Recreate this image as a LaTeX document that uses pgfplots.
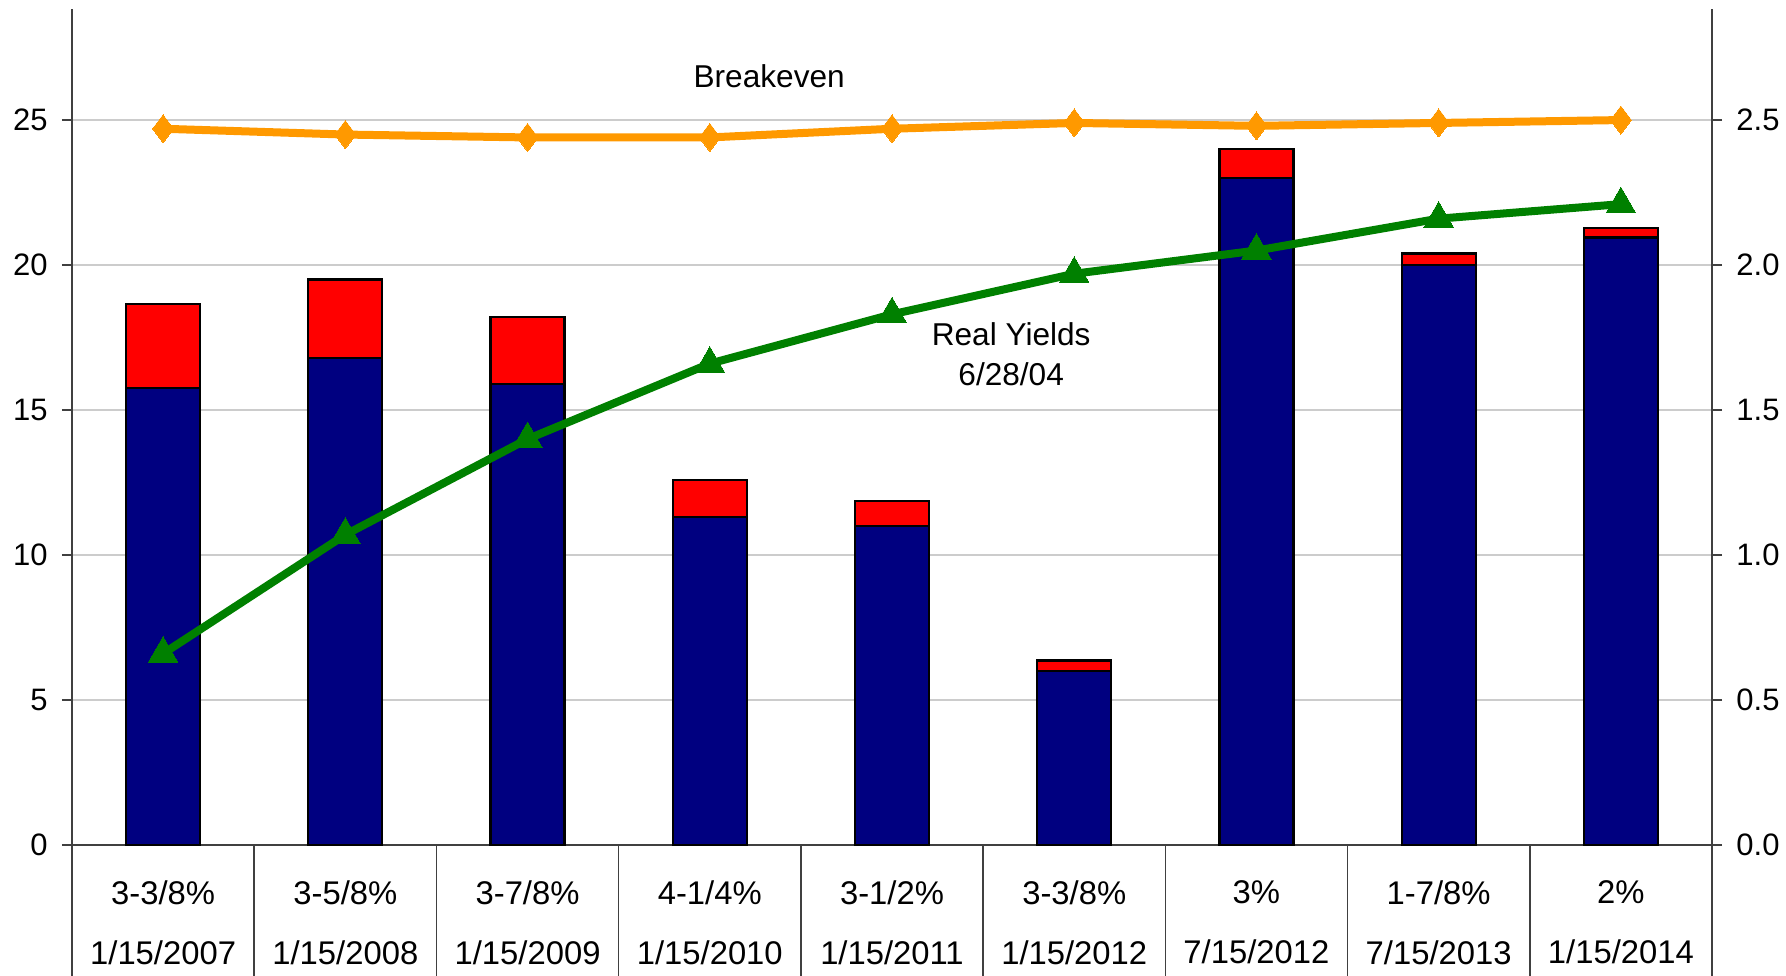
\documentclass[border=0pt]{standalone}
\usepackage{pgfplots}
\pgfplotsset{compat=1.18}
\usepackage{fontspec}
\setmainfont{Liberation Sans}
\definecolor{navybar}{HTML}{000080}
\definecolor{redbar}{HTML}{FF0000}
\definecolor{beorange}{HTML}{FF9900}
\definecolor{rygreen}{HTML}{008000}
\begin{document}
\fontsize{15pt}{18pt}\selectfont
\begin{tikzpicture}
\useasboundingbox (-36pt,-65pt) rectangle (857pt,422.5pt);
\clip (-36pt,-65pt) rectangle (857pt,422.5pt);
\begin{axis}[
  at={(0,0)}, anchor=south west,
  width=820pt, height=418pt, scale only axis,
  xmin=-0.5, xmax=8.5, ymin=0, ymax=28.83,
  ybar stacked, bar width=37pt,
  axis x line*=bottom, axis y line*=left,
  axis line style={draw=black!75, line width=0.8pt},
  tick align=outside, major tick length=5pt,
  ytick={0,5,...,25},
  ymajorgrids, grid style={draw=black!20, line width=0.6pt},
  ytick style={draw=black!75, line width=0.8pt},
  xtick={0,...,8},
  xtick style={draw=none},
  xticklabels={{3-3/8\%\\[12pt]1/15/2007},{3-5/8\%\\[12pt]1/15/2008},{3-7/8\%\\[12pt]1/15/2009},{4-1/4\%\\[12pt]1/15/2010},{3-1/2\%\\[12pt]1/15/2011},{3-3/8\%\\[12pt]1/15/2012},{3\%\\[12pt]7/15/2012},{1-7/8\%\\[12pt]7/15/2013},{2\%\\[12pt]1/15/2014}},
  xticklabel style={align=center, anchor=north, yshift=-7.5pt, font=\fontsize{16.4pt}{18pt}\selectfont},
  extra x ticks={-0.5,0.5,...,8.5},
  extra x tick labels={},
  extra x tick style={major tick length=70pt, xtick style={draw=black!75, line width=0.8pt}},
  yticklabel style={xshift=-2pt, font=\fontsize{15.5pt}{18pt}\selectfont},
  /pgf/number format/assume math mode=true,
]
\addplot[fill=navybar, draw=black, line width=1.1pt] coordinates {(0,15.76) (1,16.8) (2,15.9) (3,11.3) (4,11.0) (5,6.0) (6,23.0) (7,20.0) (8,20.95)};
\addplot[fill=redbar, draw=black, line width=1.1pt] coordinates {(0,2.9) (1,2.7) (2,2.3) (3,1.3) (4,0.85) (5,0.36) (6,1.0) (7,0.4) (8,0.33)};
\node[font=\fontsize{15.8pt}{18pt}\selectfont] at (axis cs:3.326,26.5) {Breakeven};
\node[font=\fontsize{15.8pt}{18pt}\selectfont] at (axis cs:4.654,17.6) {Real Yields};
\node[font=\fontsize{15.8pt}{18pt}\selectfont] at (axis cs:4.654,16.24) {6/28/04};
\end{axis}
\begin{axis}[
  at={(0,0)}, anchor=south west,
  width=820pt, height=418pt, scale only axis,
  xmin=-0.5, xmax=8.5, ymin=0, ymax=2.883,
  axis y line*=right, axis x line=none,
  axis line style={draw=black!75, line width=0.8pt},
  tick align=outside, major tick length=5pt,
  ytick={0,0.5,...,2.5},
  ytick style={draw=black!75, line width=0.8pt},
  yticklabel style={/pgf/number format/fixed, /pgf/number format/fixed zerofill, /pgf/number format/precision=1, xshift=2pt, font=\fontsize{15.5pt}{18pt}\selectfont},
  /pgf/number format/assume math mode=true,
]
\addplot[draw=beorange, line width=4pt, mark=diamond*, mark size=7pt, mark options={fill=beorange, draw=beorange, line width=0pt}] coordinates {(0,2.47) (1,2.45) (2,2.44) (3,2.44) (4,2.47) (5,2.49) (6,2.48) (7,2.49) (8,2.50)};
\addplot[draw=rygreen, line width=4pt, mark=triangle*, mark size=8.5pt, mark options={fill=rygreen, draw=rygreen, line width=0pt}] coordinates {(0,0.66) (1,1.07) (2,1.40) (3,1.66) (4,1.83) (5,1.97) (6,2.05) (7,2.16) (8,2.21)};
\end{axis}
\end{tikzpicture}
\end{document}
